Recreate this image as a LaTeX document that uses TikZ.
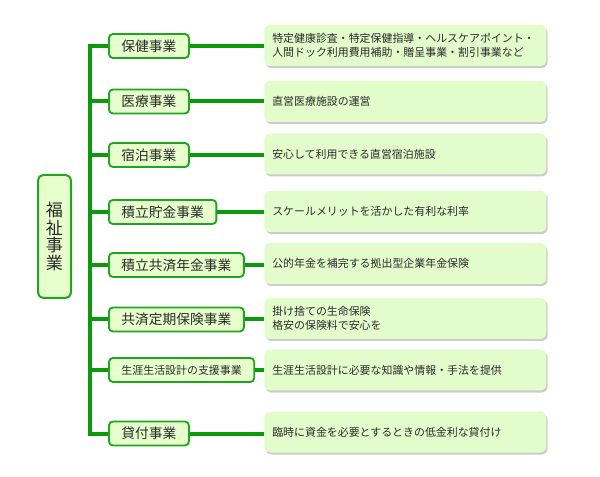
\documentclass[tikz,border=0pt]{standalone}
\usepackage{fontspec}
\setmainfont{Noto Sans CJK JP}
\definecolor{fkgreen}{HTML}{0A9A0A}
\definecolor{fkedge}{HTML}{1FA51F}
\definecolor{fkfill}{HTML}{E6FFCC}
\definecolor{fkpale}{HTML}{E3FCCB}
\definecolor{fktext}{HTML}{2B2B2B}
\usetikzlibrary{positioning,shadows}

\begin{document}
\begin{tikzpicture}[x=0.75pt,y=-0.75pt,
  root/.style={draw=fkedge,line width=1.5pt,rounded corners=4pt,fill=fkfill,
    align=center,text=fktext,font=\fontsize{12.8}{13.1}\selectfont,
    minimum width=24.75pt,minimum height=92.25pt,inner sep=0pt},
  biz/.style={draw=fkedge,line width=1.4pt,rounded corners=3pt,fill=fkfill,
    anchor=west,text=fktext,font=\fontsize{10.3}{12}\selectfont,
    inner xsep=9.4pt,inner ysep=0pt,minimum height=18pt},
  note/.style={fill=fkpale,rounded corners=4.5pt,anchor=west,align=left,
    text=fktext,font=\fontsize{8.2}{10.5}\selectfont,
    text width=199.5pt,inner xsep=6pt,inner ysep=0pt,minimum height=30.75pt,
    drop shadow={shadow xshift=1pt,shadow yshift=-1.5pt,fill=black,opacity=0.2}},
  link/.style={fkgreen,line width=3pt}]
  \useasboundingbox (0,0) rectangle (600,477);
  \node[root] (welfare) at (54.5,236.5) {福\\祉\\事\\業};
  % business lines
  \node[biz] (m1) at (108,46) {保健事業};
  \node[biz] (m2) at (108,101.5) {医療事業};
  \node[biz] (m3) at (108,155) {宿泊事業};
  \node[biz] (m4) at (108,212) {積立貯金事業};
  \node[biz] (m5) at (108,265) {積立共済年金事業};
  \node[biz] (m6) at (108,319.5) {共済定期保険事業};
  \node[biz,font=\fontsize{8.2}{10}\selectfont] (m7) at (108,370) {生涯生活設計の支援事業};
  \node[biz] (m8) at (108,433.5) {貸付事業};
  % descriptions
  \node[note] (d1) at (264,45.5) {特定健康診査・特定保健指導・ヘルスケアポイント・\\人間ドック利用費用補助・贈呈事業・割引事業など};
  \node[note] (d2) at (264,101.5) {直営医療施設の運営};
  \node[note] (d3) at (264,154) {安心して利用できる直営宿泊施設};
  \node[note] (d4) at (264,211.5) {スケールメリットを活かした有利な利率};
  \node[note] (d5) at (264,263.5) {公的年金を補完する拠出型企業年金保険};
  \node[note] (d6) at (264,318.5) {掛け捨ての生命保険\\格安の保険料で安心を};
  \node[note] (d7) at (264,370) {生涯生活設計に必要な知識や情報・手法を提供};
  \node[note] (d8) at (264,432) {臨時に資金を必要とするときの低金利な貸付け};
  \coordinate (trunk) at (90,0);
  \draw[link] (m1.west) -| (trunk |- m1.west) -- (trunk |- m8.west) -- (m8.west);
  \foreach \i in {2,...,7}
    \draw[link] (trunk |- m\i.west) -- (m\i.west);
  \foreach \i in {1,...,8}
    \draw[link] (m\i.east) -- (m\i.east -| d\i.west);
\end{tikzpicture}
\end{document}
